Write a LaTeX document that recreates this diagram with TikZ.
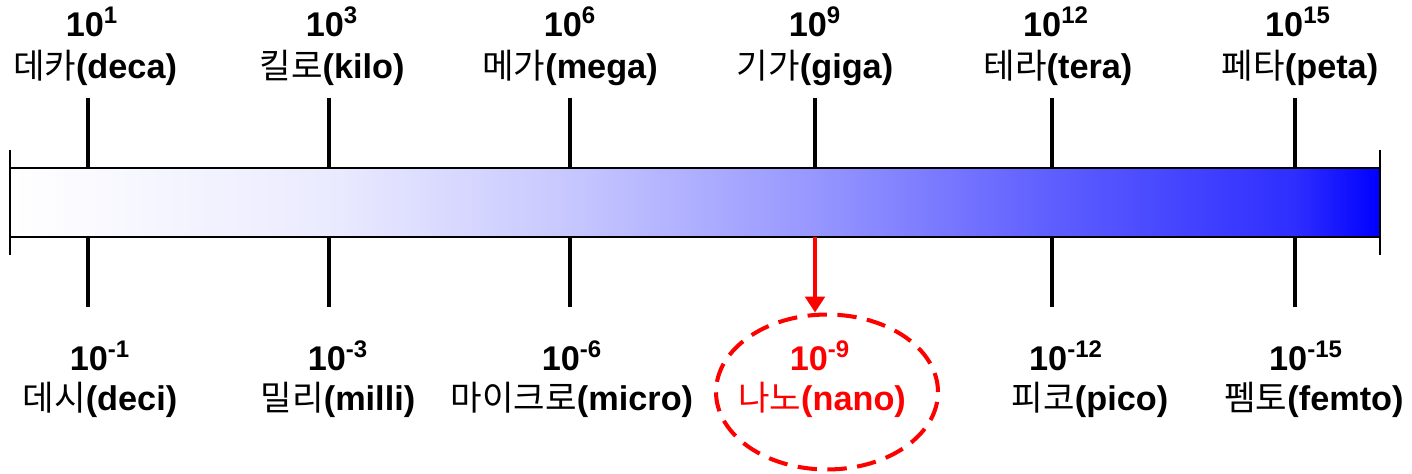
\documentclass[tikz,border=0pt]{standalone}
\usepackage{fontspec}
\setmainfont{Liberation Sans}
\newfontfamily\kr{Noto Sans CJK KR}
\usetikzlibrary{shapes.geometric,arrows.meta}
\colorlet{g1}{blue!2!white}
\colorlet{g2}{blue!8!white}
\colorlet{g3}{blue!22!white}
\colorlet{g4}{blue!41!white}
\colorlet{g5}{blue!63!white}
\colorlet{g6}{blue!82!white}
\pgfdeclarehorizontalshading{barshade}{100bp}{color(0bp)=(white); color(25bp)=(white); color(27.85bp)=(g1); color(36.64bp)=(g2); color(45.44bp)=(g3); color(54.38bp)=(g4); color(63.03bp)=(g5); color(71.9bp)=(g6); color(75bp)=(blue); color(100bp)=(blue)}
\begin{document}
\begin{tikzpicture}[x=0.02cm,y=-0.02cm,
  lbl/.style={font=\fontsize{19.5}{22}\selectfont\bfseries, inner sep=0pt, align=center},
  tick/.style={line width=2.3pt, black},
  endline/.style={line width=1.1pt, black},
  redarrow/.style={red, line width=2.3pt, -{Triangle[length=9pt,width=11pt]}},
  oval/.style={draw=red, line width=2.3pt, dash pattern=on 11pt off 6pt, ellipse, minimum width=4.44cm, minimum height=3.1cm, inner sep=0pt},
]
\useasboundingbox (0,0) rectangle (1412,473);
% bar
\shade[shading=barshade] (10,168) rectangle (1380,237);
\draw[line width=1.1pt] (10,168) -- (1380,168);
\draw[line width=1.1pt] (10,237) -- (1380,237);
\coordinate (e1t) at (10,150); \coordinate (e1b) at (10,255);
\coordinate (e2t) at (1380,150); \coordinate (e2b) at (1380,255);
\draw[endline] (e1t) -- (e1b);
\draw[endline] (e2t) -- (e2b);
% ticks
\foreach \x/\n in {88/a,329/b,570/c,815/d,1052/e,1295/f}{
  \coordinate (t\n1) at (\x,98); \coordinate (t\n2) at (\x,168);
  \coordinate (b\n1) at (\x,237); \coordinate (b\n2) at (\x,307);
  \draw[tick] (t\n1) -- (t\n2);
}
\foreach \n in {a,b,c,e,f}{\draw[tick] (b\n1) -- (b\n2);}
% top labels
\node[lbl] (ua) at (92,22) {10\textsuperscript{1}};
\node[lbl] (na) at (95,68) {{\kr\mdseries 데카}(deca)};
\node[lbl] (ub) at (332,22) {10\textsuperscript{3}};
\node[lbl] (nb) at (332,68) {{\kr\mdseries 킬로}(kilo)};
\node[lbl] (uc) at (570,22) {10\textsuperscript{6}};
\node[lbl] (nc) at (570,68) {{\kr\mdseries 메가}(mega)};
\node[lbl] (ud) at (815,22) {10\textsuperscript{9}};
\node[lbl] (nd) at (815,68) {{\kr\mdseries 기가}(giga)};
\node[lbl] (ue) at (1056,22) {10\textsuperscript{12}};
\node[lbl] (ne) at (1058,68) {{\kr\mdseries 테라}(tera)};
\node[lbl] (uf) at (1298,22) {10\textsuperscript{15}};
\node[lbl] (nf) at (1300,68) {{\kr\mdseries 페타}(peta)};
% bottom labels
\node[lbl] (la) at (100,356) {10\textsuperscript{-1}};
\node[lbl] (ma) at (100,400) {{\kr\mdseries 데시}(deci)};
\node[lbl] (lb) at (338,356) {10\textsuperscript{-3}};
\node[lbl] (mb) at (338,400) {{\kr\mdseries 밀리}(milli)};
\node[lbl] (lc) at (572,356) {10\textsuperscript{-6}};
\node[lbl] (mc) at (572,400) {{\kr\mdseries 마이크로}(micro)};
\node[lbl, red] (ld) at (820,356) {10\textsuperscript{-9}};
\node[lbl, red] (md) at (822,400) {{\kr\mdseries 나노}(nano)};
\node[lbl] (le) at (1066,356) {10\textsuperscript{-12}};
\node[lbl] (me) at (1090,400) {{\kr\mdseries 피코}(pico)};
\node[lbl] (lf) at (1306,356) {10\textsuperscript{-15}};
\node[lbl] (mf) at (1314,400) {{\kr\mdseries 펨토}(femto)};
% ellipse and arrow
\node[oval] (nano) at (827,392) {};
\draw[redarrow] (bd1) -- (bd1 |- nano.north);
\end{tikzpicture}
\end{document}
